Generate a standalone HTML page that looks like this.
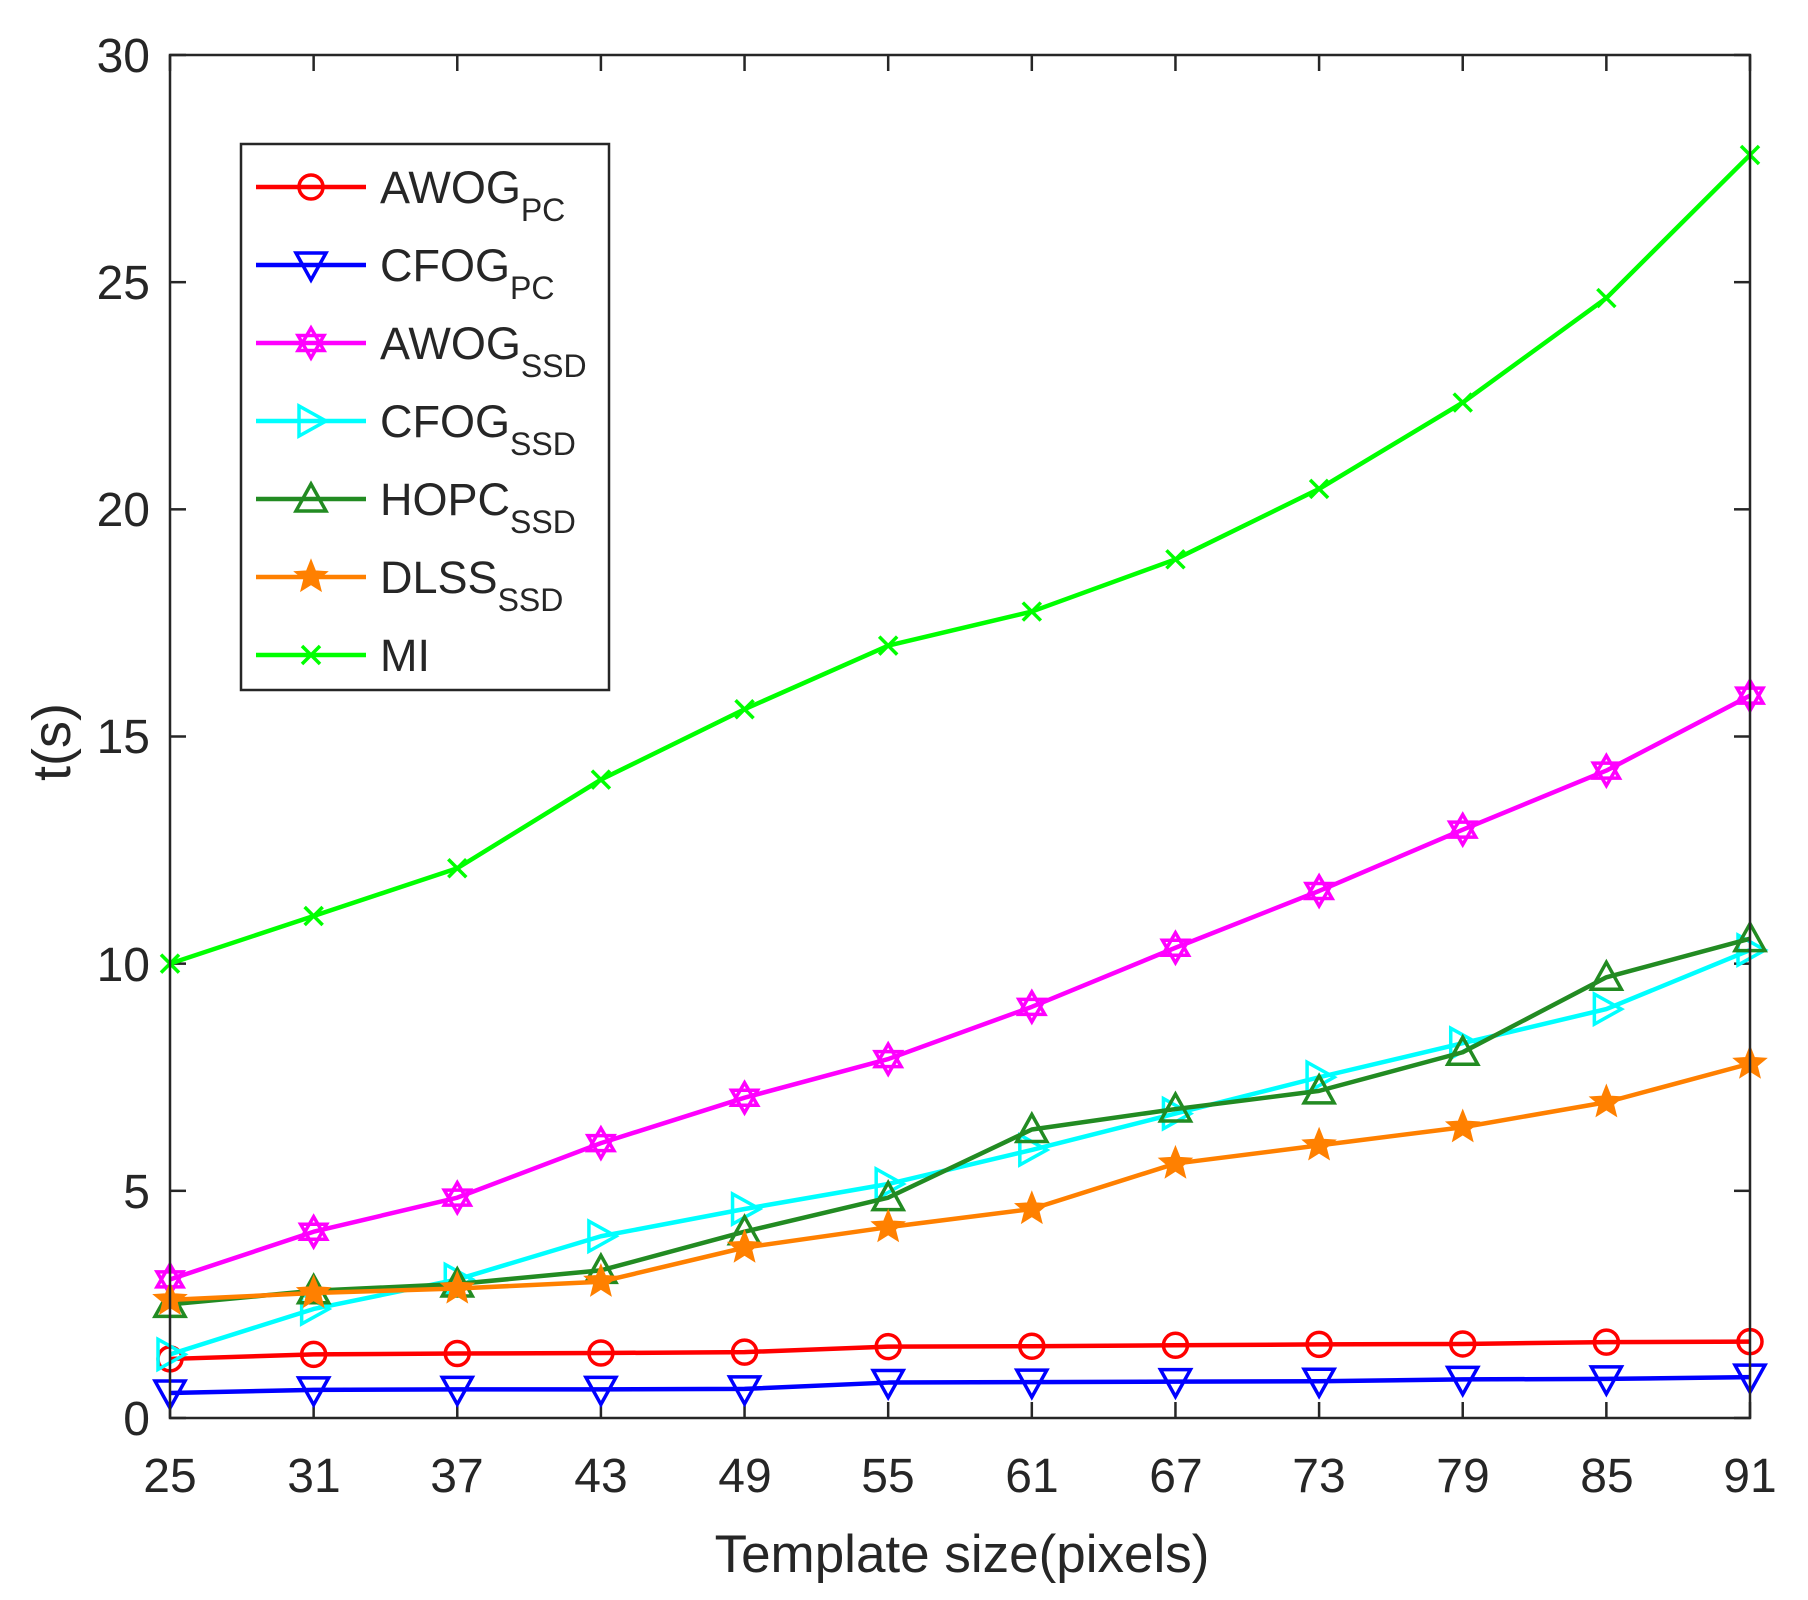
<!DOCTYPE html>
<html><head><meta charset="utf-8"><style>
html,body{margin:0;padding:0;background:#fff}
svg{display:block}
text{font-family:"Liberation Sans",Arial,sans-serif;fill:#262626}
</style></head><body>
<svg id="s" width="1808" height="1600" viewBox="0 0 1808 1600" xmlns="http://www.w3.org/2000/svg">
<rect x="0" y="0" width="1808" height="1600" fill="#fff"/>
<g id="ticks" stroke="#262626" stroke-width="2.5"></g>
<g id="series"></g>
<rect x="170" y="55" width="1580" height="1363" fill="none" stroke="#262626" stroke-width="2.5"/>
<g font-size="48" text-anchor="end">
<text x="150" y="1435">0</text>
<text x="150" y="1208">5</text>
<text x="150" y="981">10</text>
<text x="150" y="753">15</text>
<text x="150" y="526">20</text>
<text x="150" y="299">25</text>
<text x="150" y="72">30</text>
</g>
<g font-size="48" text-anchor="middle">
<text x="170" y="1492">25</text>
<text x="314" y="1492">31</text>
<text x="457" y="1492">37</text>
<text x="601" y="1492">43</text>
<text x="745" y="1492">49</text>
<text x="888" y="1492">55</text>
<text x="1032" y="1492">61</text>
<text x="1176" y="1492">67</text>
<text x="1319" y="1492">73</text>
<text x="1463" y="1492">79</text>
<text x="1607" y="1492">85</text>
<text x="1750" y="1492">91</text>
<text x="962" y="1572" font-size="53">Template size(pixels)</text>
<text x="0" y="0" font-size="54" transform="translate(70,742) rotate(-90)">t(s)</text>
</g>
<rect x="241" y="144" width="368" height="546" fill="#fff" stroke="#262626" stroke-width="2.5"/>
<g id="leg"></g>
<g font-size="45">
<text x="380" y="203">AWOG<tspan font-size="32" dy="18">PC</tspan></text>
<text x="380" y="281">CFOG<tspan font-size="32" dy="18">PC</tspan></text>
<text x="380" y="359">AWOG<tspan font-size="32" dy="18">SSD</tspan></text>
<text x="380" y="437">CFOG<tspan font-size="32" dy="18">SSD</tspan></text>
<text x="380" y="515">HOPC<tspan font-size="32" dy="18">SSD</tspan></text>
<text x="380" y="593">DLSS<tspan font-size="32" dy="18">SSD</tspan></text>
<text x="380" y="671">MI</text>
</g>
</svg>
<script>
var NS="http://www.w3.org/2000/svg";
function X(v){return 170+(v-25)/66*1580;}
function Y(v){return 1418-v/30*1363;}
function el(t,a,p){var e=document.createElementNS(NS,t);for(var k in a)e.setAttribute(k,a[k]);p.appendChild(e);return e;}
var tk=document.getElementById('ticks');
for(var i=0;i<=6;i++){var y=Y(i*5);el('line',{x1:170,y1:y,x2:186,y2:y},tk);el('line',{x1:1750,y1:y,x2:1734,y2:y},tk);}
for(var i=0;i<12;i++){var x=X(25+6*i);el('line',{x1:x,y1:1418,x2:x,y2:1402},tk);el('line',{x1:x,y1:55,x2:x,y2:71},tk);}
function marker(type,x,y,c,g){
 var sw=3.5;
 if(type=='o')el('circle',{cx:x,cy:y,r:12,fill:'none',stroke:c,'stroke-width':sw},g);
 else if(type=='v')el('polygon',{points:[x-15,y-12,x+15,y-12,x,y+15].join(' '),fill:'none',stroke:c,'stroke-width':sw},g);
 else if(type=='>')el('polygon',{points:[x-12,y-15,x-12,y+15,x+15,y].join(' '),fill:'none',stroke:c,'stroke-width':sw},g);
 else if(type=='^')el('polygon',{points:[x-15,y+12,x+15,y+12,x,y-15].join(' '),fill:'none',stroke:c,'stroke-width':sw},g);
 else if(type=='h'){el('polygon',{points:[x,y-15,x+13,y+7.5,x-13,y+7.5].join(' '),fill:'none',stroke:c,'stroke-width':sw},g);
   el('polygon',{points:[x,y+15,x+13,y-7.5,x-13,y-7.5].join(' '),fill:'none',stroke:c,'stroke-width':sw},g);}
 else if(type=='p'){var pts=[];for(var k=0;k<10;k++){var r=k%2?7:16,a=-Math.PI/2+k*Math.PI/5;pts.push(x+r*Math.cos(a),y+r*Math.sin(a));}
   el('polygon',{points:pts.join(' '),fill:c,stroke:c,'stroke-width':2},g);}
 else if(type=='x'){el('path',{d:'M'+(x-9)+' '+(y-9)+'L'+(x+9)+' '+(y+9)+'M'+(x-9)+' '+(y+9)+'L'+(x+9)+' '+(y-9),stroke:c,'stroke-width':sw},g);}
}
var S=[
['#ff0000','o',[1.3,1.4,1.42,1.43,1.45,1.57,1.58,1.6,1.62,1.63,1.67,1.68]],
['#0000ff','v',[0.55,0.62,0.63,0.63,0.64,0.78,0.79,0.8,0.81,0.85,0.86,0.9]],
['#ff00ff','h',[3.05,4.1,4.85,6.05,7.05,7.9,9.05,10.35,11.6,12.95,14.25,15.9]],
['#00ffff','>',[1.4,2.4,3.05,4.0,4.6,5.15,5.9,6.7,7.5,8.25,9.0,10.3]],
['#228b22','^',[2.5,2.8,2.95,3.25,4.1,4.85,6.35,6.8,7.2,8.05,9.7,10.55]],
['#ff8000','p',[2.6,2.75,2.85,3.0,3.75,4.2,4.6,5.6,6.0,6.4,6.95,7.8]],
['#00ff00','x',[10.0,11.05,12.1,14.05,15.6,17.0,17.75,18.9,20.45,22.35,24.65,27.8]]
];
var g=document.getElementById('series'),lg=document.getElementById('leg');
S.forEach(function(s,j){
 var pts=s[2].map(function(v,i){return X(25+6*i)+','+Y(v);}).join(' ');
 el('polyline',{points:pts,fill:'none',stroke:s[0],'stroke-width':4.5,'stroke-linejoin':'round'},g);
 s[2].forEach(function(v,i){marker(s[1],X(25+6*i),Y(v),s[0],g);});
 var ly=187+j*78;
 el('line',{x1:256,y1:ly,x2:366,y2:ly,stroke:s[0],'stroke-width':4.5},lg);
 marker(s[1],311,ly,s[0],lg);
});
</script>
</body></html>
